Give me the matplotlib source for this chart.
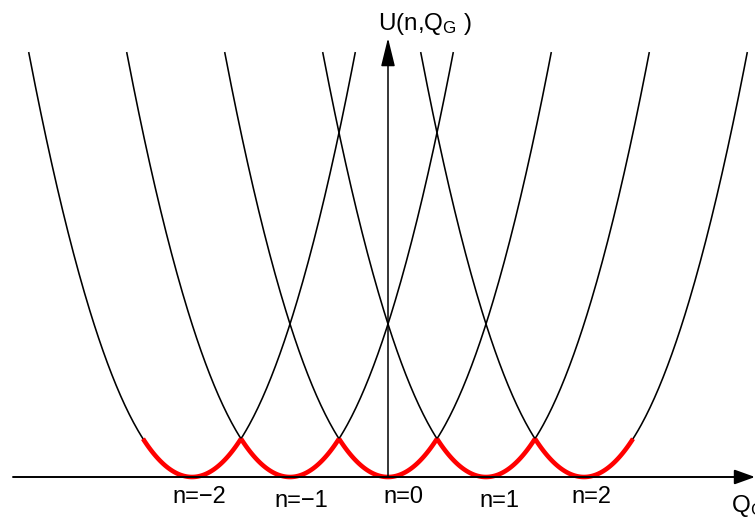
import matplotlib.pyplot as plt
import numpy as np

plt.rcParams['font.family'] = ['Liberation Sans', 'DejaVu Sans']
plt.rcParams['mathtext.default'] = 'regular'

# charge states and their parabolas U = (Q_G - n)^2
charges = [-2, -1, 0, 1, 2]
half_width = 1.665          # how far each parabola is drawn either side of its minimum
label_x = [-1.93, -0.88, 0.16, 1.14, 2.08]
label_base = [-0.17, -0.196, -0.17, -0.196, -0.17]
label_text = ['n=\u22122', 'n=\u22121', 'n=0', 'n=1', 'n=2']

fig = plt.figure(figsize=(7.55, 5.23), dpi=100)
ax = fig.add_axes([0, 0, 1, 1])
# 98 px per unit of Q_G, 153 px per unit of U, origin at pixel (388, 477)
ax.set_xlim(-388 / 98, (755 - 388) / 98)
ax.set_ylim(-(523 - 477) / 153, 477 / 153)
ax.axis('off')

for n in charges:
    q = np.linspace(n - half_width, n + half_width, 300)
    ax.plot(q, (q - n) ** 2, color='black', lw=1.15, zorder=2)

# ground state: lowest parabola in each charge window
for n in charges:
    q = np.linspace(n - 0.5, n + 0.5, 100)
    ax.plot(q, (q - n) ** 2, color='#ff0000', lw=3.3, zorder=3, solid_capstyle='butt')

# axes with arrow heads
x0, x1 = (13 - 388) / 98, (755 - 388) / 98
ax.annotate('', xy=(x1, 0), xytext=(x0, 0),
            arrowprops=dict(arrowstyle='-|>,head_length=1.25,head_width=0.45',
                            color='black', lw=1.4, shrinkA=0, shrinkB=0,
                            mutation_scale=10))
ax.annotate('', xy=(0, (477 - 38) / 153), xytext=(0, 0),
            arrowprops=dict(arrowstyle='-|>,head_length=1.75,head_width=0.43',
                            color='black', lw=1.1, shrinkA=0, shrinkB=0,
                            mutation_scale=10))

for x, y, t in zip(label_x, label_base, label_text):
    ax.text(x, y, t, ha='center', va='baseline', fontsize=17)

ax.text((378 - 388) / 98, (477 - 30) / 153, r'U(n,Q$_\mathregular{G}$ )',
        ha='left', va='baseline', fontsize=17.5)
ax.text((731 - 388) / 98, -(512 - 477) / 153, r'Q$_\mathregular{G}$',
        ha='left', va='baseline', fontsize=17.5)

fig.savefig('out.png', dpi=100)
